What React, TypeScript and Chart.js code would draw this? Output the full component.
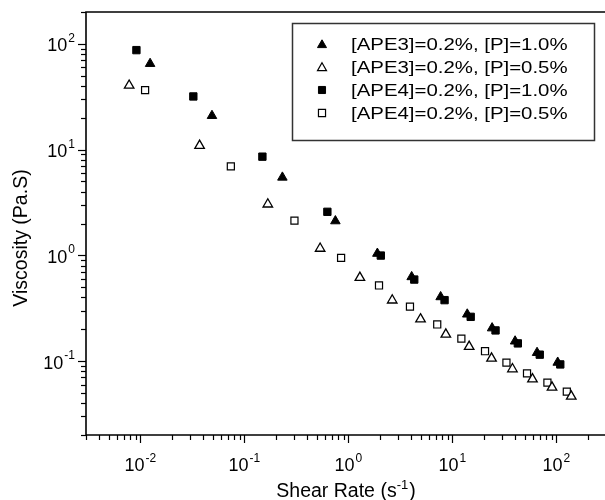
import React, { useEffect, useRef } from "react";
import { Chart, registerables } from "chart.js";

Chart.register(...registerables);

// ---- Data ----
const ape3P10X = [0.0124, 0.0488, 0.232, 0.75, 1.9, 4.06, 7.71, 13.9, 24.1, 40.1, 65.2, 103];
const ape3P10Y = [64.9, 20.9, 5.46, 2.11, 1.04, 0.625, 0.404, 0.277, 0.205, 0.154, 0.12, 0.097];

const ape3P05X = [0.0078, 0.0371, 0.168, 0.535, 1.29, 2.64, 4.94, 8.65, 14.5, 23.8, 37.8, 58.9, 90.8, 139];
const ape3P05Y = [40.4, 10.9, 3.04, 1.16, 0.616, 0.376, 0.249, 0.179, 0.137, 0.106, 0.0841, 0.0676, 0.0564, 0.0464];

const ape4P10X = [0.00916, 0.0323, 0.149, 0.628, 2.05, 4.3, 8.41, 15.0, 26.0, 42.6, 69.2, 109];
const ape4P10Y = [87.2, 31.8, 8.57, 2.58, 0.995, 0.59, 0.377, 0.262, 0.195, 0.147, 0.115, 0.093];

const ape4P05X = [0.0111, 0.0741, 0.303, 0.851, 1.97, 3.91, 7.15, 12.2, 20.6, 33.1, 52.2, 82.0, 126];
const ape4P05Y = [36.5, 6.94, 2.13, 0.946, 0.519, 0.327, 0.222, 0.163, 0.124, 0.0966, 0.0766, 0.0625, 0.0514];

const seriesLabels = [
  "[APE3]=0.2%, [P]=1.0%",
  "[APE3]=0.2%, [P]=0.5%",
  "[APE4]=0.2%, [P]=1.0%",
  "[APE4]=0.2%, [P]=0.5%",
];

const xMajorTicks = [0.01, 0.1, 1, 10, 100];
const xTickExponents = ["-2", "-1", "0", "1", "2"];
const yMajorTicks = [0.1, 1, 10, 100];
const yTickExponents = ["-1", "0", "1", "2"];

const xMin = 0.003;
const xMax = 300;
const yMin = 0.02;
const yMax = 200;

const xTitleMain = "Shear Rate (s";
const xTitleSup = "-1";
const xTitleEnd = ")";
const yTitle = "Viscosity (Pa.S)";

const FONT = "'Liberation Sans', Arial, Helvetica, sans-serif";

const toPoints = (xs: number[], ys: number[]) => xs.map((x, i) => ({ x, y: ys[i] }));

function drawMarker(ctx: CanvasRenderingContext2D, style: string, filled: boolean, cx: number, cy: number, r: number, bw: number) {
  ctx.beginPath();
  if (style === "triangle") {
    let rad = 0;
    ctx.moveTo(cx + Math.sin(rad) * r, cy - Math.cos(rad) * r);
    rad += (2 * Math.PI) / 3;
    ctx.lineTo(cx + Math.sin(rad) * r, cy - Math.cos(rad) * r);
    rad += (2 * Math.PI) / 3;
    ctx.lineTo(cx + Math.sin(rad) * r, cy - Math.cos(rad) * r);
    ctx.closePath();
  } else {
    const s = r * Math.SQRT1_2;
    ctx.rect(cx - s, cy - s, 2 * s, 2 * s);
  }
  ctx.fillStyle = filled ? "#000" : "#fff";
  ctx.fill();
  ctx.lineWidth = bw;
  ctx.strokeStyle = "#000";
  ctx.stroke();
}

const axesPlugin = {
  id: "customAxes",
  beforeDatasetsDraw(chart: any) {
    const { ctx, chartArea: a, scales } = chart;
    const xs = scales.x;
    const ys = scales.y;
    ctx.save();
    ctx.strokeStyle = "#000";
    ctx.lineWidth = 1.6;
    ctx.beginPath();
    ctx.moveTo(a.right + 2, a.top);
    ctx.lineTo(a.left, a.top);
    ctx.lineTo(a.left, a.bottom);
    ctx.lineTo(a.right + 2, a.bottom);
    ctx.stroke();

    ctx.lineWidth = 1.2;
    // x ticks
    for (let d = -3; d <= 2; d++) {
      for (let m = 1; m <= 9; m++) {
        const v = m * Math.pow(10, d);
        if (v < xMin * 0.999 || v > xMax * 1.001) continue;
        const px = Math.round(xs.getPixelForValue(v)) + 0.5;
        const len = m === 1 ? 8 : 5;
        ctx.beginPath();
        ctx.moveTo(px, a.bottom);
        ctx.lineTo(px, a.bottom + len);
        ctx.stroke();
      }
    }
    // y ticks
    for (let d = -2; d <= 2; d++) {
      for (let m = 1; m <= 9; m++) {
        const v = m * Math.pow(10, d);
        if (v < yMin * 0.999 || v > yMax * 1.001) continue;
        const py = Math.round(ys.getPixelForValue(v)) + 0.5;
        const len = m === 1 ? 8 : 5;
        ctx.beginPath();
        ctx.moveTo(a.left, py);
        ctx.lineTo(a.left - len, py);
        ctx.stroke();
      }
    }

    ctx.fillStyle = "#000";
    ctx.textBaseline = "alphabetic";
    const big = `18px ${FONT}`;
    const small = `12px ${FONT}`;
    // x tick labels
    xMajorTicks.forEach((v, i) => {
      const px = xs.getPixelForValue(v);
      ctx.font = big;
      const w1 = ctx.measureText("10").width;
      ctx.font = small;
      const w2 = ctx.measureText(xTickExponents[i]).width;
      const start = px - (w1 + w2 + 1) / 2;
      ctx.font = big;
      ctx.textAlign = "left";
      ctx.fillText("10", start, a.bottom + 36);
      ctx.font = small;
      ctx.fillText(xTickExponents[i], start + w1 + 1, a.bottom + 27);
    });
    // y tick labels
    yMajorTicks.forEach((v, i) => {
      const py = ys.getPixelForValue(v);
      ctx.font = small;
      const w2 = ctx.measureText(yTickExponents[i]).width;
      ctx.font = big;
      const w1 = ctx.measureText("10").width;
      const right = a.left - 11;
      ctx.textAlign = "left";
      ctx.fillText("10", right - w2 - 1 - w1, py + 7.5);
      ctx.font = small;
      ctx.fillText(yTickExponents[i], right - w2, py - 2);
    });

    // x title with superscript
    const tf = `19.5px ${FONT}`;
    const tfs = `13px ${FONT}`;
    ctx.font = tf;
    const wa = ctx.measureText(xTitleMain).width;
    const wc = ctx.measureText(xTitleEnd).width;
    ctx.font = tfs;
    const wb = ctx.measureText(xTitleSup).width;
    const total = wa + wb + wc + 1;
    const cx = (a.left + a.right) / 2;
    const sx = cx - total / 2;
    const base = 497;
    ctx.font = tf;
    ctx.fillText(xTitleMain, sx, base);
    ctx.font = tfs;
    ctx.fillText(xTitleSup, sx + wa, base - 8);
    ctx.font = tf;
    ctx.fillText(xTitleEnd, sx + wa + wb + 1, base);

    // y title
    ctx.save();
    ctx.translate(27, 238);
    ctx.rotate(-Math.PI / 2);
    ctx.font = tf;
    ctx.textAlign = "center";
    ctx.fillText(yTitle, 0, 0);
    ctx.restore();

    ctx.restore();
  },
  afterDraw(chart: any) {
    const { ctx } = chart;
    ctx.save();
    // legend box
    ctx.fillStyle = "#fff";
    ctx.fillRect(292, 23, 303, 118);
    ctx.strokeStyle = "#333";
    ctx.lineWidth = 1.5;
    ctx.strokeRect(292.5, 23.5, 302, 117);
    const rows = [44, 67, 90, 113];
    const styles = [
      ["triangle", true],
      ["triangle", false],
      ["rect", true],
      ["rect", false],
    ] as const;
    rows.forEach((ry, i) => {
      const [st, filled] = styles[i];
      drawMarker(ctx, st, filled, 322, st === "triangle" ? ry + 1 : ry, st === "triangle" ? 5.2 : 5, filled ? 1 : 1.2);
      ctx.save();
      ctx.translate(351, ry + 6);
      ctx.scale(1.2, 1);
      ctx.font = `17px ${FONT}`;
      ctx.fillStyle = "#000";
      ctx.textAlign = "left";
      ctx.textBaseline = "alphabetic";
      ctx.fillText(seriesLabels[i], 0, 0);
      ctx.restore();
    });
    ctx.restore();
  },
};

export default function App() {
  const ref = useRef<HTMLCanvasElement | null>(null);
  useEffect(() => {
    if (!ref.current) return;
    const chart = new Chart(ref.current, {
      type: "scatter",
      data: {
        datasets: [
          {
            label: seriesLabels[0],
            data: toPoints(ape3P10X, ape3P10Y),
            pointStyle: "triangle",
            pointRadius: 5.5,
            backgroundColor: "#000",
            borderColor: "#000",
            borderWidth: 1,
          },
          {
            label: seriesLabels[1],
            data: toPoints(ape3P05X, ape3P05Y),
            pointStyle: "triangle",
            pointRadius: 5.5,
            backgroundColor: "#fff",
            borderColor: "#000",
            borderWidth: 1.3,
          },
          {
            label: seriesLabels[2],
            data: toPoints(ape4P10X, ape4P10Y),
            pointStyle: "rect",
            pointRadius: 5.2,
            backgroundColor: "#000",
            borderColor: "#000",
            borderWidth: 1,
          },
          {
            label: seriesLabels[3],
            data: toPoints(ape4P05X, ape4P05Y),
            pointStyle: "rect",
            pointRadius: 5,
            backgroundColor: "#fff",
            borderColor: "#000",
            borderWidth: 1.2,
          },
        ],
      },
      options: {
        animation: false,
        responsive: false,
        devicePixelRatio: 1,
        layout: { padding: { left: 86, top: 12, right: 14, bottom: 65 } },
        plugins: { legend: { display: false }, tooltip: { enabled: false } },
        scales: {
          x: { type: "logarithmic", min: xMin, max: xMax, display: false },
          y: { type: "logarithmic", min: yMin, max: yMax, display: false },
        },
      },
      plugins: [axesPlugin],
    });
    return () => chart.destroy();
  }, []);
  return (
    <div
      style={{
        position: "absolute",
        left: 0,
        top: 0,
        width: 605,
        height: 500,
        overflow: "hidden",
        background: "#fff",
      }}
    >
      <canvas ref={ref} width={620} height={500} style={{ display: "block" }} />
    </div>
  );
}
